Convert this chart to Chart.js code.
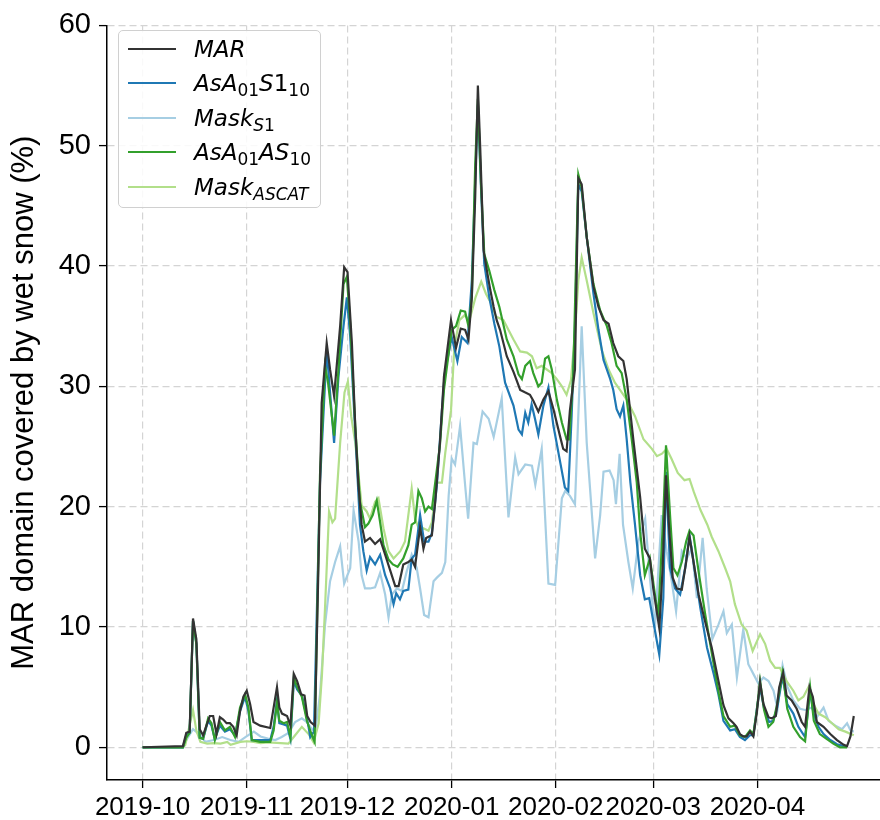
<!DOCTYPE html>
<html lang="en">
<head>
<meta charset="UTF-8">
<title>Wet snow cover</title>
<script src="https://cdn.jsdelivr.net/npm/chart.js"></script>
<style>
  body { margin: 0; background: #fff; }
  .tela { position: relative; width: 880px; height: 820px; }
  #legenda {
    position: absolute; left: 118px; top: 30px; width: 201px; height: 176px;
    border: 1.5px solid #d0d0d0; border-radius: 5px; background: rgba(255,255,255,0.85);
    font-family: "DejaVu Sans", sans-serif; font-size: 23px; color: #000;
  }
  .item { position: absolute; left: 0; height: 34px; width: 200px; }
  .amostra { position: absolute; left: 9px; top: 16px; width: 48px; height: 2.2px; }
  .texto { position: absolute; left: 75px; top: 0; line-height: 34px; white-space: nowrap; font-style: italic; }
  .texto sub { font-size: 17px; vertical-align: -5px; line-height: 0; }
  .rm { font-style: normal; }
</style>
</head>
<body>
<div class="tela">
  <canvas id="myChart" width="880" height="820"></canvas>
  <div id="legenda">
    <div class="item" style="top:1px"><div class="amostra" style="background:#333333"></div><span class="texto">MAR</span></div>
    <div class="item" style="top:35px"><div class="amostra" style="background:#1f78b4"></div><span class="texto">AsA<sub class="rm">01</sub>S<span class="rm">1</span><sub class="rm">10</sub></span></div>
    <div class="item" style="top:70px"><div class="amostra" style="background:#a6cee3"></div><span class="texto">Mask<sub>S<span class="rm">1</span></sub></span></div>
    <div class="item" style="top:104px"><div class="amostra" style="background:#33a02c"></div><span class="texto">AsA<sub class="rm">01</sub>AS<sub class="rm">10</sub></span></div>
    <div class="item" style="top:139px"><div class="amostra" style="background:#b2df8a"></div><span class="texto">Mask<sub>ASCAT</sub></span></div>
  </div>
</div>

<script>
// x = days since 2019-10-01
const monthDays = [0, 31, 61, 92, 123, 152, 183];
const monthLabels = ['2019-10', '2019-11', '2019-12', '2020-01', '2020-02', '2020-03', '2020-04'];
const yTicks = [0, 10, 20, 30, 40, 50, 60];

// MAR
const marDays = [0, 12, 13, 14, 15, 16, 17, 18, 19, 20, 21, 22, 23, 24, 25, 26, 27, 28, 29, 30, 31, 32, 33, 35, 38, 39, 40, 40.7, 41.5, 43, 44, 45, 46, 47.2, 48.2, 49, 50, 51.3, 52.3, 53.3, 54.8, 55.8, 57, 58.8, 60, 61, 62.3, 63.3, 64.2, 65.2, 66.2, 67.7, 69.2, 70.7, 72.2, 73.7, 75.2, 76.2, 77.6, 79.1, 80.1, 81.1, 82.6, 83.6, 84.4, 85.1, 86.1, 87.1, 88.5, 89.7, 91.8, 93.3, 94.7, 96, 97, 98, 99, 99.8, 100.5, 101.5, 102.5, 103.5, 104.5, 105.4, 106.4, 108.4, 110.4, 112.4, 113.8, 115.3, 116.3, 117.8, 119.3, 120.8, 122.3, 124.3, 125.2, 126.2, 127.2, 128.7, 129.7, 130.7, 132.2, 134.2, 135.7, 137.2, 138.7, 140.1, 141.6, 143.1, 144.1, 146.1, 148.1, 149.5, 151, 152, 153.8, 154.8, 155.8, 156.8, 157.8, 159, 160.5, 161.8, 162.8, 164, 165.5, 167.4, 169.4, 171.2, 172.9, 174.4, 175.9, 176.8, 177.8, 178.8, 179.8, 180.8, 181.8, 182.8, 183.8, 184.8, 186.3, 187.2, 188.5, 189.5, 190.7, 191.7, 193.2, 194.7, 196.2, 197.2, 198.5, 199.5, 200.7, 202.7, 204.7, 206.7, 208.7, 209.7, 210.7, 211.7];
const marVals = [0, 0.1, 1.2, 1.3, 10.7, 9.0, 1.5, 1.0, 1.8, 2.6, 2.6, 1.1, 2.5, 2.3, 2.0, 2.0, 1.7, 1.0, 3.0, 4.2, 4.7, 3.6, 2.1, 1.8, 1.6, 3.3, 5.0, 3.3, 2.8, 2.6, 1.8, 6.1, 5.5, 4.4, 4.3, 2.6, 2.1, 1.8, 14.6, 28.6, 33.6, 31.4, 29.2, 35.0, 39.9, 39.5, 33.6, 26.7, 22.0, 18.5, 17.1, 17.4, 16.9, 17.3, 16.0, 14.7, 13.4, 13.4, 15.2, 15.4, 15.6, 15.0, 18.3, 16.5, 17.4, 17.5, 17.6, 20.4, 25.3, 30.8, 35.5, 33.2, 34.8, 34.7, 33.9, 37.4, 45.7, 55.0, 49.8, 41.3, 39.6, 38.0, 36.6, 35.5, 34.7, 32.5, 31.2, 29.7, 29.5, 29.3, 28.8, 27.9, 28.9, 29.6, 28.1, 25.8, 24.8, 24.6, 28.0, 31.4, 47.3, 46.8, 42.4, 38.3, 36.6, 35.5, 35.2, 33.6, 32.5, 32.1, 30.6, 25.5, 20.8, 16.5, 15.7, 13.2, 9.9, 14.9, 22.6, 17.9, 14.1, 13.2, 13.1, 15.4, 17.5, 15.4, 12.7, 10.5, 8.3, 5.8, 3.5, 2.4, 2.0, 1.7, 1.1, 0.9, 0.9, 1.3, 0.9, 2.8, 5.4, 3.6, 2.5, 2.4, 2.6, 5.0, 6.2, 4.3, 3.9, 3.2, 2.1, 1.7, 5.0, 4.2, 2.1, 1.7, 1.1, 0.6, 0.2, 0.1, 0.9, 2.6];

// AsA01S1_10
const s1Days = [0, 12, 13, 14, 15, 16, 17, 18, 19.5, 20.5, 21.5, 23, 24.5, 26, 27.5, 29, 30.5, 31.5, 32.5, 35, 38, 39, 40, 40.7, 42, 43, 44, 45, 46, 47.4, 48.4, 49.4, 49.9, 51, 52.8, 54.8, 57, 58.3, 59.8, 60.8, 61.8, 63.3, 64.7, 65.7, 66.7, 67.7, 69.2, 70.7, 72.2, 73.7, 74.7, 75.5, 76.6, 77.6, 79.1, 80.1, 81.1, 82.6, 83.8, 85.1, 86.1, 87.6, 89.1, 89.9, 92, 93.7, 95, 96.7, 98, 99, 99.8, 100.8, 101.7, 103.2, 104.7, 106.2, 107.9, 110.4, 111.9, 112.9, 113.9, 114.8, 115.8, 116.8, 117.8, 119.3, 120.8, 122.3, 124.3, 125.7, 126.7, 127.7, 128.7, 129.7, 130.7, 132.2, 134.2, 135.7, 137.2, 139.2, 140.1, 141.1, 142.1, 143.1, 144.1, 145.2, 146.5, 148.1, 149.5, 150.8, 152, 153.8, 155, 155.8, 157, 158.5, 160, 161.5, 162.8, 164, 166, 168, 170, 171.4, 172.9, 174.9, 176.3, 177.8, 179.3, 180.8, 181.8, 182.8, 183.8, 185, 186.5, 187.7, 188.9, 190.5, 191.9, 193.7, 195.2, 197.2, 198.7, 199.7, 201.2, 202.7, 204.7, 206.7, 208.7, 209.7];
const s1Vals = [0, 0, 1.0, 1.2, 10.5, 8.6, 0.8, 0.7, 2.2, 1.8, 0.7, 1.8, 1.3, 1.5, 1.0, 3.0, 4.2, 3.0, 0.6, 0.6, 0.6, 1.7, 3.9, 2.0, 1.9, 1.8, 0.7, 5.5, 4.8, 4.3, 3.1, 1.7, 0.85, 1.3, 22.0, 33.0, 25.3, 30.8, 35.0, 37.4, 34.1, 26.2, 18.5, 16.3, 14.7, 15.8, 15.2, 16.0, 14.3, 13.2, 11.9, 12.8, 12.3, 13.0, 13.1, 15.7, 16.0, 19.3, 17.1, 17.1, 17.8, 21.8, 28.0, 31.0, 34.1, 32.1, 34.1, 33.6, 38.8, 47.1, 53.4, 46.0, 40.2, 37.4, 35.2, 33.3, 30.3, 28.4, 26.4, 26.0, 27.8, 27.0, 28.5, 27.3, 26.0, 28.4, 29.9, 26.7, 23.7, 21.6, 21.3, 27.5, 35.0, 46.8, 46.2, 42.4, 37.7, 34.7, 32.2, 30.6, 29.7, 28.1, 27.5, 28.4, 25.6, 22.0, 18.7, 14.3, 12.3, 12.4, 10.5, 7.7, 12.4, 22.9, 14.9, 13.2, 12.7, 14.9, 17.6, 15.4, 11.6, 8.3, 6.1, 4.4, 2.2, 1.4, 1.5, 0.85, 0.6, 1.0, 1.0, 3.1, 5.0, 3.2, 2.1, 2.2, 3.3, 5.9, 3.6, 2.8, 1.7, 0.85, 4.7, 2.8, 1.7, 1.1, 0.6, 0.25, 0.1, 0.1];

// Mask_S1
const maskS1Days = [0, 12, 13, 15, 16.8, 18.7, 21.2, 23.7, 26.1, 28.6, 30.6, 33.1, 35.1, 37.5, 39.5, 41.4, 43.4, 45.4, 47.4, 48.9, 50.4, 51.4, 52.8, 54.3, 55.8, 57.3, 58.8, 60, 61.8, 62.8, 64.3, 65.2, 66.2, 67.7, 69.2, 70.7, 72.2, 73.2, 74.2, 75.7, 77.2, 78.6, 80.1, 81.6, 82.6, 83.8, 85.1, 86.6, 87.6, 89.1, 90.1, 91.1, 92, 93, 94.5, 96, 96.9, 98.5, 99.5, 101.2, 103, 104.5, 106.9, 108.9, 110.9, 111.9, 113.9, 115.9, 116.9, 118.8, 120.8, 122.8, 124.8, 125.8, 127.2, 128.7, 130.7, 132.2, 134.7, 136.2, 137.2, 139, 140.2, 140.9, 142, 143, 144.6, 145.9, 147.6, 149.6, 151.1, 152.5, 154.5, 156, 157.5, 158.8, 160.5, 162, 163.5, 165, 166.7, 167.9, 169.6, 171.4, 172.9, 173.9, 175.4, 176.9, 178.8, 180.3, 181.8, 183.3, 184.8, 186.3, 187.8, 189, 190.5, 192, 193.7, 195.7, 197.2, 199.2, 200.7, 202.7, 204.2, 206.2, 208.2, 209.7, 210.7, 211.7];
const maskS1Vals = [0, 0, 0.6, 1.5, 1.1, 0.45, 0.6, 0.85, 0.6, 0.45, 0.85, 1.3, 0.9, 0.7, 0.6, 0.85, 1.2, 2.1, 2.4, 2.1, 1.5, 1.3, 4.4, 10.2, 13.8, 15.4, 16.7, 13.6, 14.9, 19.7, 17.1, 14.3, 13.2, 13.2, 13.3, 14.5, 12.7, 10.8, 12.7, 13.2, 13.0, 14.6, 16.0, 14.9, 13.2, 11.0, 10.8, 13.8, 14.1, 14.5, 15.4, 20.9, 24.0, 23.5, 26.7, 21.8, 19.0, 25.3, 25.2, 27.9, 27.3, 25.8, 29.0, 19.1, 24.1, 22.7, 23.5, 23.4, 21.8, 24.8, 13.6, 13.5, 20.7, 21.3, 20.9, 20.2, 35.0, 25.3, 15.7, 19.3, 22.9, 23.0, 22.2, 20.2, 24.4, 18.5, 15.4, 13.2, 17.1, 19.0, 13.8, 9.9, 19.3, 16.3, 13.8, 11.3, 16.3, 15.7, 16.5, 12.4, 17.4, 13.2, 9.0, 10.2, 11.3, 9.5, 10.2, 5.8, 9.8, 6.9, 6.1, 5.3, 5.8, 5.5, 4.7, 3.2, 6.8, 5.0, 3.9, 3.2, 3.1, 3.3, 2.5, 3.3, 2.2, 1.8, 1.5, 2.0, 1.4, 1.3];

// AsA01AS10
const asDays = [0, 12, 13, 14, 15, 16, 17, 18, 19.5, 20.5, 21.5, 23, 24.5, 26, 27.5, 29, 30.5, 31.5, 32.5, 35, 38, 39, 40, 40.7, 42, 43, 44, 45, 46, 47.4, 48.9, 50.4, 51.2, 52.8, 54.3, 55.2, 57, 58.3, 59.8, 60.8, 61.8, 63.3, 64.7, 66.2, 67.2, 68.5, 69.7, 70.7, 71.7, 73.2, 74.5, 75.9, 77.6, 79.1, 80.1, 81.1, 82.1, 83.1, 84.1, 85.1, 86.1, 87.1, 88.5, 89.7, 92, 93.3, 94.7, 96, 97, 98, 99, 99.8, 100.7, 101.7, 103.2, 104.7, 106.2, 108.4, 110.4, 111.9, 112.9, 113.9, 115.3, 116.3, 117.8, 118.8, 119.8, 120.8, 121.8, 123.3, 124.8, 126.2, 127, 128.2, 129.7, 130.7, 132.2, 134.2, 136.2, 138.2, 139.6, 141.1, 142.6, 144.1, 145.6, 147.1, 148.1, 149.5, 151, 152.5, 153.5, 155, 155.8, 157, 158, 159.2, 160.5, 161.8, 162.8, 164, 165.5, 167.5, 169.5, 171.5, 172.9, 174.9, 176.3, 177.8, 179.3, 180.8, 181.8, 182.8, 183.8, 185, 186.3, 187.7, 188.9, 190.5, 191.9, 193.7, 195.7, 197.2, 198.7, 199.8, 201.6, 203.6, 205.6, 207.6, 209.7];
const asVals = [0, 0, 0.8, 1.2, 10.5, 8.6, 0.8, 0.7, 2.4, 2.0, 0.6, 2.1, 1.4, 1.7, 0.85, 3.3, 4.4, 3.3, 0.6, 0.45, 0.45, 1.4, 3.7, 2.2, 2.0, 2.1, 0.85, 5.8, 5.0, 4.2, 2.2, 1.0, 0.45, 22.6, 31.7, 30.3, 25.9, 31.4, 38.5, 39.1, 35.2, 26.7, 20.4, 18.3, 18.6, 19.3, 20.5, 18.7, 16.8, 15.6, 15.2, 15.0, 15.7, 16.8, 18.5, 18.7, 21.3, 20.7, 19.6, 20.0, 19.8, 22.0, 25.1, 29.7, 34.7, 35.0, 36.3, 36.2, 35.0, 37.4, 48.4, 53.9, 47.0, 41.0, 39.6, 38.0, 36.6, 33.9, 32.5, 31.0, 30.6, 31.7, 32.1, 31.1, 30.0, 30.3, 32.3, 32.5, 31.4, 28.9, 27.0, 25.6, 25.6, 31.1, 47.6, 46.5, 42.4, 38.5, 36.3, 35.0, 33.6, 31.7, 31.1, 28.9, 25.6, 22.0, 17.9, 14.3, 15.7, 12.7, 10.9, 19.3, 25.1, 19.3, 14.9, 14.3, 15.4, 17.1, 18.0, 17.6, 14.6, 11.0, 7.7, 4.5, 2.6, 1.7, 1.8, 1.0, 0.85, 1.4, 1.1, 3.0, 5.5, 3.1, 1.7, 2.1, 3.6, 6.2, 3.2, 1.7, 0.85, 0.5, 5.0, 2.2, 1.1, 0.7, 0.3, 0, 0];

// Mask_ASCAT
const maskAsDays = [0, 12, 12.7, 15, 16, 17.2, 19.2, 21.2, 23.2, 25.2, 26.2, 29.1, 31.1, 33.1, 35.1, 37.5, 43.4, 45.4, 47.4, 49.4, 50.9, 52.4, 53.4, 54.3, 55.5, 56.5, 57.3, 58.8, 60.1, 61.1, 62.1, 63.3, 65.2, 66.7, 67.7, 69.2, 70.2, 71.7, 73.2, 74.7, 76.7, 78.1, 80.1, 81.1, 82.6, 83.6, 85.1, 86.1, 87.6, 89.1, 90.1, 91.8, 92.8, 94.3, 95.8, 97.3, 99.1, 100.8, 102.2, 103.7, 105.2, 107.4, 110.4, 112.4, 114.4, 115.9, 117.3, 118.8, 120.3, 121.8, 123.3, 124.8, 126.2, 127.5, 128.7, 129.7, 130.7, 132.2, 134.2, 136.7, 138.7, 140.6, 142.1, 144.1, 146.6, 149.1, 151.6, 153.1, 154.6, 156, 157.4, 159.3, 161.3, 162.8, 164.1, 166.1, 168.1, 169.4, 171.4, 173.4, 174.9, 176.3, 178.3, 179.8, 181.6, 183.8, 185.3, 186.8, 188.3, 189.7, 191.7, 193.7, 195.2, 196.7, 198.2, 199.7, 201.2, 203.2, 205.2, 207.2, 209.2, 211.7];
const maskAsVals = [0, 0, 0.2, 3.1, 1.4, 0.45, 0.3, 0.35, 0.3, 0.45, 0.2, 0.45, 0.5, 0.45, 0.35, 0.4, 0.3, 1.0, 1.7, 1.1, 0.4, 2.0, 6.1, 11.6, 19.6, 18.7, 19.0, 25.3, 29.5, 30.4, 27.5, 25.3, 20.1, 19.6, 19.0, 20.4, 20.7, 18.2, 16.3, 15.7, 16.3, 17.1, 21.5, 19.0, 17.9, 18.2, 18.0, 18.7, 22.0, 22.0, 24.5, 28.0, 33.3, 35.5, 35.9, 35.5, 37.4, 38.7, 37.7, 36.9, 35.8, 35.5, 33.9, 32.9, 32.8, 32.5, 31.5, 31.7, 31.4, 31.1, 30.6, 30.0, 29.3, 30.5, 34.4, 38.8, 40.7, 38.8, 36.1, 33.0, 31.4, 30.3, 29.7, 28.9, 27.5, 25.6, 24.8, 24.2, 24.4, 24.8, 24.0, 22.8, 22.2, 22.3, 21.2, 19.7, 18.5, 17.5, 16.3, 14.9, 13.8, 11.9, 10.2, 9.7, 8.0, 9.4, 8.6, 7.2, 6.6, 6.6, 5.5, 4.7, 3.9, 4.2, 5.0, 3.6, 2.8, 2.5, 2.0, 1.5, 1.3, 1.0];

function pares(dias, valores) {
    let pontos = [];
    for (let i = 0; i < dias.length; i++) {
        pontos.push({ x: dias[i], y: valores[i] });
    }
    return pontos;
}

// first dataset is drawn on top
const dados = {
    datasets: [
        { label: 'MAR', data: pares(marDays, marVals), borderColor: '#333333' },
        { label: 'AsA01AS10', data: pares(asDays, asVals), borderColor: '#33a02c' },
        { label: 'AsA01S1_10', data: pares(s1Days, s1Vals), borderColor: '#1f78b4' },
        { label: 'Mask_ASCAT', data: pares(maskAsDays, maskAsVals), borderColor: '#b2df8a' },
        { label: 'Mask_S1', data: pares(maskS1Days, maskS1Vals), borderColor: '#a6cee3' }
    ]
};

const grade = { color: '#d4d4d4', lineWidth: 1.2, tickColor: '#000', tickLength: 8, tickWidth: 1.3 };
const borda = { color: '#000', width: 1.5, dash: [7, 4] };

const config = {
    type: 'line',
    data: dados,
    options: {
        responsive: false,
        animation: false,
        layout: { padding: { top: 20, left: 0, right: 0, bottom: 0 } },
        plugins: { legend: { display: false }, tooltip: { enabled: false } },
        elements: { point: { radius: 0 }, line: { borderWidth: 2.2, tension: 0 } },
        scales: {
            x: {
                type: 'linear',
                min: -10.6,
                max: 219.5,
                afterBuildTicks: (s) => { s.ticks = monthDays.map(v => ({ value: v })); },
                afterFit: (s) => { s.height = 40; },
                ticks: {
                    autoSkip: false, maxRotation: 0, padding: 4, color: '#000',
                    font: { family: 'Liberation Sans', size: 26 },
                    callback: (v, i) => monthLabels[i]
                },
                grid: grade,
                border: borda
            },
            y: {
                min: -2.72,
                max: 60,
                afterBuildTicks: (s) => { s.ticks = yTicks.map(v => ({ value: v })); },
                afterFit: (s) => { s.width = 107; },
                ticks: { padding: 8, color: '#000', font: { family: 'Liberation Sans', size: 29 } },
                grid: grade,
                border: borda,
                title: {
                    display: true, text: 'MAR domain covered by wet snow (%)', color: '#000',
                    font: { family: 'Liberation Sans', size: 31 }, padding: { top: 6, bottom: 0 }
                }
            }
        }
    }
};

let myChart = new Chart(document.getElementById('myChart'), config);
</script>
</body>
</html>
